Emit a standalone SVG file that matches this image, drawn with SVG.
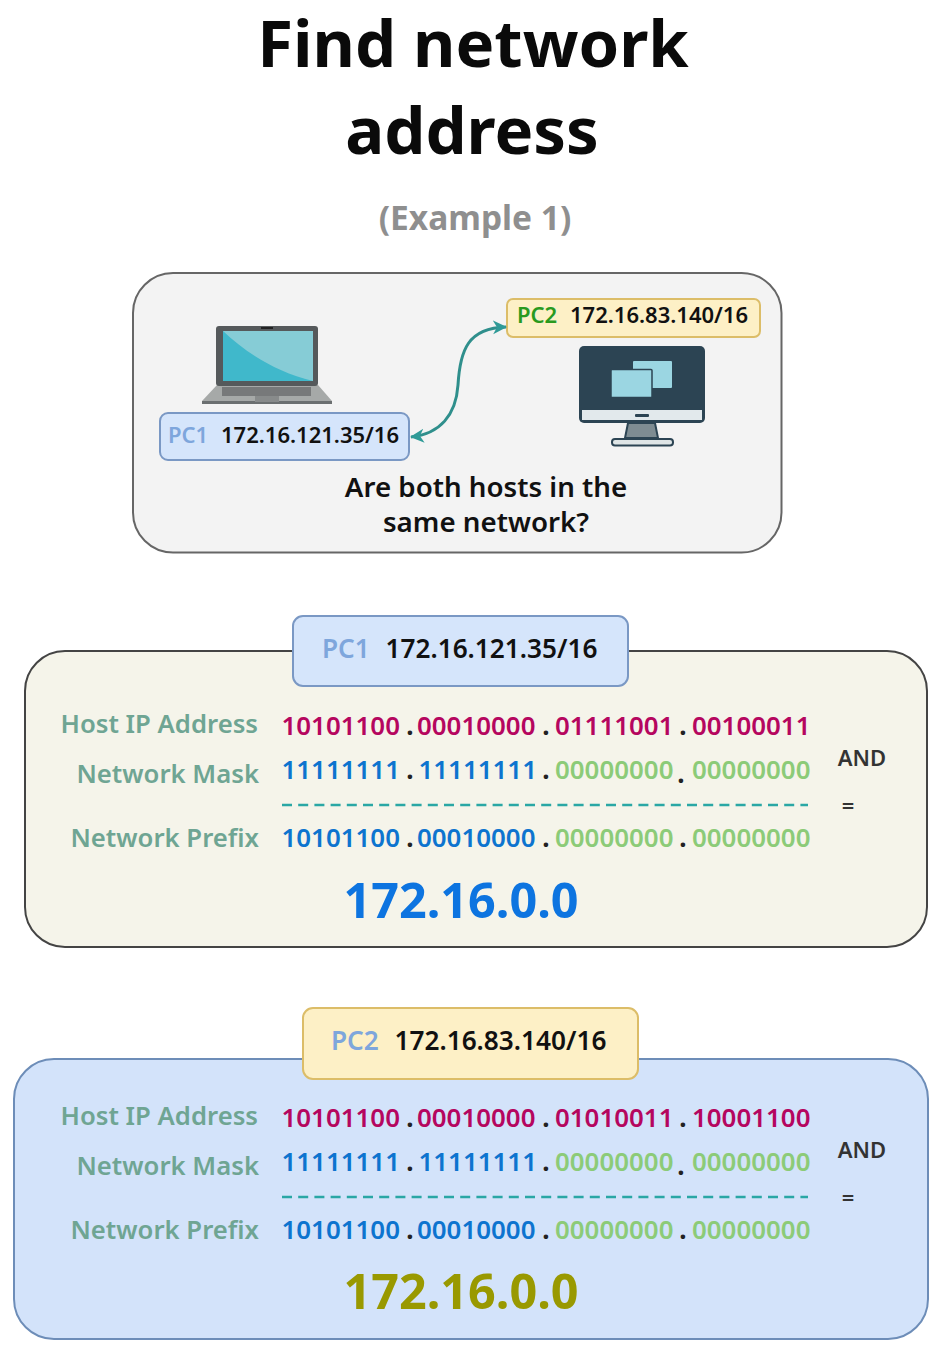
<svg xmlns="http://www.w3.org/2000/svg" width="941" height="1348" viewBox="0 0 941 1348">
<defs>
<marker id="ah" markerWidth="16" markerHeight="16" refX="13" refY="7" orient="auto-start-reverse" markerUnits="userSpaceOnUse"><path d="M0,0 L14,7 L0,14 L4,7 Z" fill="#2f9a97"/></marker>
<g id="rows">
<text class="lab" x="258" y="7">Host IP Address</text>
<text class="lab" x="259" y="57">Network Mask</text>
<text class="lab" x="259" y="121">Network Prefix</text>
<text class="d" x="281.500" y="53" fill="#0d74cf">11111111</text>
<text class="d" x="418.500" y="53" fill="#0d74cf">11111111</text>
<text class="d" x="555" y="53" fill="#8ccb78">00000000</text>
<text class="d" x="692" y="53" fill="#8ccb78">00000000</text>
<text class="d" x="281.500" y="121" fill="#0d74cf">10101100</text>
<text class="d" x="417" y="121" fill="#0d74cf">00010000</text>
<text class="d" x="555" y="121" fill="#8ccb78">00000000</text>
<text class="d" x="692" y="121" fill="#8ccb78">00000000</text>
<text class="dot" x="410" y="9">.</text><text class="dot" x="546" y="9">.</text><text class="dot" x="683" y="9">.</text>
<text class="dot" x="410" y="53">.</text><text class="dot" x="546" y="53">.</text><text class="dot" x="681" y="57">.</text>
<text class="dot" x="410" y="121">.</text><text class="dot" x="546" y="121">.</text><text class="dot" x="683" y="121">.</text>
<line x1="282" y1="79" x2="808" y2="79" stroke="#2aa7a5" stroke-width="2.500" stroke-dasharray="10 6.200"/>
<text class="op" x="862" y="40">AND</text>
<text class="op" x="848" y="88">=</text>
</g>
</defs>
<style>
text{font-family:"Noto Sans","Open Sans","DejaVu Sans",sans-serif}
.title{font-size:65.2px;font-weight:700;text-anchor:middle;fill:#0a0a0a}
.sub{font-size:33.5px;font-weight:700;text-anchor:middle;fill:#8f8f8f}
.q{font-size:27.7px;font-weight:600;text-anchor:middle;fill:#111}
.lab{font-size:25.7px;font-weight:600;text-anchor:end;fill:#6fa593}
.d{font-size:25.9px;font-weight:600}
.dot{font-size:26px;font-weight:700;fill:#222;text-anchor:middle}
.op{font-size:22px;font-weight:600;text-anchor:middle;fill:#333}
.res{font-size:48.5px;font-weight:700;text-anchor:middle}
.pc{font-size:22px;font-weight:600}
.big{font-size:26.2px;font-weight:600}
</style>
<rect width="941" height="1348" fill="#fff"/>
<g id="heading">
<text class="title" x="473" y="67">Find network</text>
<text class="title" x="472" y="154">address</text>
<text class="sub" x="475" y="230">(Example 1)</text>
</g>
<g id="scenario">
<rect x="133" y="273" width="648.500" height="279.500" rx="40" fill="#f3f3f3" stroke="#666" stroke-width="2"/>
<text class="q" x="486" y="497">Are both hosts in the</text>
<text class="q" x="486" y="532">same network?</text>
</g>
<g id="laptop">
<path d="M202,401 L217,385 H318 L332,401 V404 H202 Z" fill="#a6a9a8"/>
<rect x="202" y="401" width="130" height="3" fill="#6b6f70"/>
<rect x="222" y="387" width="89" height="9" fill="#77797a"/>
<rect x="255" y="396" width="24" height="6" fill="#888b8b"/>
<rect x="216" y="326" width="102" height="60" rx="3" fill="#55595b"/>
<rect x="223" y="331" width="90" height="50" fill="#86ccd6"/>
<path d="M223,331 C245,352 275,372 313,381 H223 Z" fill="#40b8cb"/>
<rect x="261" y="327" width="12" height="2" fill="#222"/>
</g>
<g id="pc1-tag">
<rect x="160" y="413" width="249" height="47" rx="8" fill="#d5e5fb" stroke="#7a98c4" stroke-width="2"/>
<text class="pc" x="168" y="443" fill="#7ea6dc">PC1</text>
<text class="pc" x="221" y="443" fill="#111">172.16.121.35/16</text>
</g>
<g id="pc2-tag">
<rect x="507" y="299" width="253" height="38" rx="6" fill="#fdf0c6" stroke="#dcbd68" stroke-width="2"/>
<text class="pc" x="517" y="323" fill="#2a9a1e">PC2</text>
<text class="pc" x="570" y="323" fill="#111">172.16.83.140/16</text>
</g>
<g id="desktop">
<path d="M628,423 H655 L658,438 H625 Z" fill="#7e8c92" stroke="#2c4453" stroke-width="2"/>
<rect x="612" y="439" width="61" height="6.500" rx="3" fill="#dfe5e6" stroke="#2c4453" stroke-width="2"/>
<rect x="579" y="346" width="126" height="77" rx="5" fill="#2c4453"/>
<rect x="582" y="410" width="120" height="10" fill="#e2e9ec"/>
<rect x="635" y="414" width="14" height="3" rx="1" fill="#2c4453"/>
<rect x="633" y="361" width="39" height="27" rx="1" fill="#9bd6e2"/>
<rect x="611" y="369.500" width="41" height="28" rx="1" fill="#9bd6e2" stroke="#2c4453" stroke-width="1.500"/>
</g>
<g id="connectors">
<path d="M411,437 C440,434 456,415 458,385 C460,350 468,328 506,327" fill="none" stroke="#2f8f8c" stroke-width="3" marker-start="url(#ah)" marker-end="url(#ah)"/>
</g>
<g id="pc1-panel">
<rect x="25" y="651" width="902" height="296" rx="40" fill="#f5f4ea" stroke="#444" stroke-width="2"/>
<rect x="293" y="616" width="335" height="70" rx="10" fill="#d5e5fb" stroke="#7a98c4" stroke-width="2"/>
<text class="big" x="322" y="657.500" fill="#7ea6dc">PC1</text>
<text class="big" x="385.500" y="657.500" fill="#111">172.16.121.35/16</text>
<g transform="translate(0,726)">
<use href="#rows"/>
<text class="d" x="281.500" y="9" fill="#b5065f">10101100</text>
<text class="d" x="417" y="9" fill="#b5065f">00010000</text>
<text class="d" x="555" y="9" fill="#b5065f">01111001</text>
<text class="d" x="692" y="9" fill="#b5065f">00100011</text>
</g>
<text class="res" x="461" y="918" fill="#0d74e0">172.16.0.0</text>
</g>
<g id="pc2-panel">
<rect x="14" y="1059" width="914" height="280" rx="40" fill="#d3e3fa" stroke="#6d8db8" stroke-width="2"/>
<rect x="303" y="1008" width="335" height="71" rx="10" fill="#fdf0c6" stroke="#dcbd68" stroke-width="2"/>
<text class="big" x="331" y="1049.500" fill="#7ea6dc">PC2</text>
<text class="big" x="394.500" y="1049.500" fill="#111">172.16.83.140/16</text>
<g transform="translate(0,1118)">
<use href="#rows"/>
<text class="d" x="281.500" y="9" fill="#b5065f">10101100</text>
<text class="d" x="417" y="9" fill="#b5065f">00010000</text>
<text class="d" x="555" y="9" fill="#b5065f">01010011</text>
<text class="d" x="692" y="9" fill="#b5065f">10001100</text>
</g>
<text class="res" x="461" y="1309" fill="#999900">172.16.0.0</text>
</g>
</svg>
